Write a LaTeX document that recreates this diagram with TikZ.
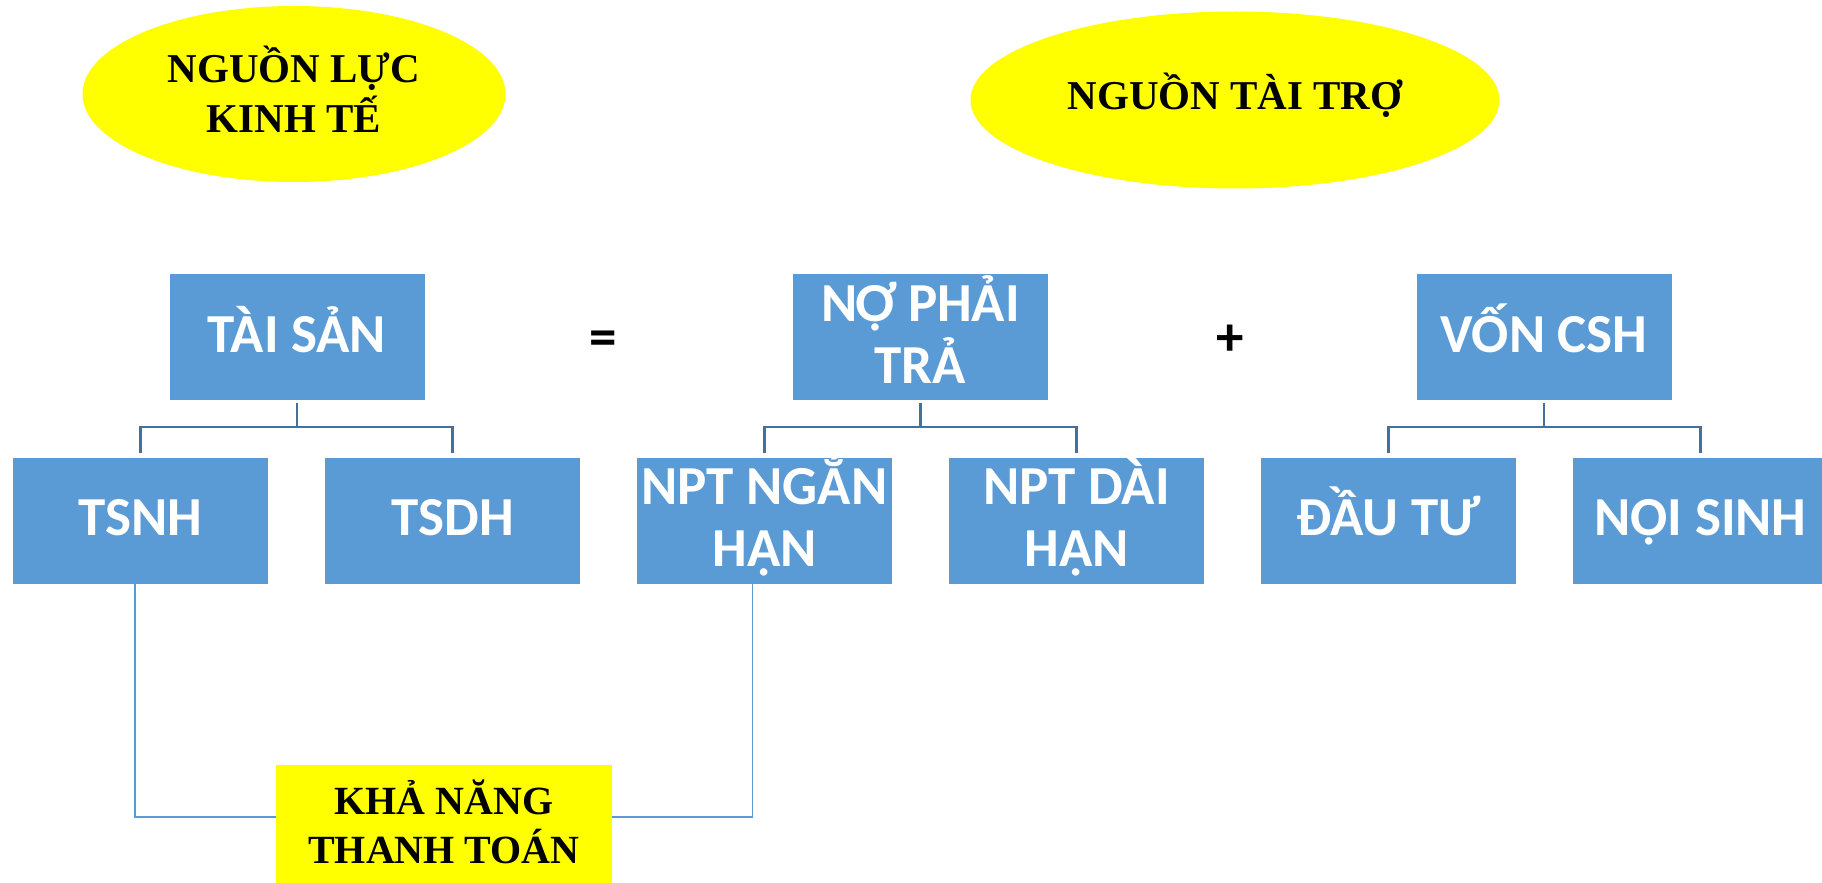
\documentclass[tikz,border=0pt]{standalone}
\usepackage{fontspec}
\setmainfont{Liberation Serif}
\newfontfamily\boxfont{Carlito}
\usetikzlibrary{shapes.geometric}
\definecolor{boxblue}{HTML}{5B9BD5}
\definecolor{treeblue}{HTML}{41719C}
\definecolor{hiyellow}{HTML}{FFFF00}

\begin{document}
\begin{tikzpicture}[x=0.5pt,y=-0.5pt,
  % fixed text box dimensions keep the capitals centred whatever the accents
  textbox/.style 2 args={text height=#1, text depth=#2},
  title/.style={ellipse, fill=hiyellow, inner sep=0, align=center,
    font=\fontsize{20.5}{25}\selectfont\bfseries},
  acct/.style={rectangle, fill=boxblue, inner sep=0, minimum width=127.5pt,
    minimum height=63pt, align=center, text=white,
    font=\boxfont\bfseries\fontsize{27.5}{31}\selectfont,
    textbox={20pt}{4.8pt}},
  acct2/.style={acct, textbox={50pt}{3.8pt}},
  op/.style={inner sep=0, anchor=base,
    font=\boxfont\bfseries\fontsize{27.5}{31}\selectfont},
  result/.style={rectangle, fill=hiyellow, inner sep=0, minimum width=168pt,
    minimum height=59pt, align=center, font=\fontsize{20}{24.5}\selectfont\bfseries,
    textbox={42pt}{2.76pt}},
  tree/.style={draw=treeblue, line width=1.25pt},
  link/.style={draw=boxblue, line width=0.6pt}]

\useasboundingbox (0,0) rectangle (1822,883);
\clip (0,0) rectangle (1822,883);

% headings
\node[title, textbox={42pt}{3.4pt}, minimum width=211.5pt, minimum height=88pt]
  (resource) at (294,94) {NGUỒN LỰC\\KINH TẾ};
\node[title, textbox={14pt}{4.4pt}, minimum width=264.5pt, minimum height=88.5pt]
  (funding) at (1235,100) {NGUỒN TÀI TRỢ};

% accounting equation
\node[acct] (taisan) at (297,337) {TÀI SẢN};
\node[op] (eq) at (603,355) {=};
\node[acct2] (nophaitra) at (920.5,337) {NỢ PHẢI\\TRẢ};
\node[op] (plus) at (1230,355) {+};
\node[acct] (von) at (1544,337) {VỐN CSH};

% components
\node[acct] (tsnh) at (140.5,520.5) {TSNH};
\node[acct] (tsdh) at (452.5,520.5) {TSDH};
\node[acct2] (nptngan) at (764.5,520.5) {NPT NGẮN\\HẠN};
\node[acct2] (nptdai) at (1076.5,520.5) {NPT DÀI\\HẠN};
\node[acct] (dautu) at (1388.5,520.5) {ĐẦU TƯ};
\node[acct] (noisinh) at (1700.5,520.5) {NỘI SINH};

% liquidity
\node[result] (khanang) at (444,824) {KHẢ NĂNG\\THANH TOÁN};

% tree connectors
\draw[tree] ([yshift=-1.5pt]taisan.south) -- ++(0,-12.5pt);
\draw[tree] ([yshift=2pt]tsnh.north) -- ++(0,13pt) -| ([yshift=2pt]tsdh.north);
\draw[tree] ([yshift=-1.5pt]nophaitra.south) -- ++(0,-12.5pt);
\draw[tree] ([yshift=2pt]nptngan.north) -- ++(0,13pt) -| ([yshift=2pt]nptdai.north);
\draw[tree] ([yshift=-1.5pt]von.south) -- ++(0,-12.5pt);
\draw[tree] ([yshift=2pt]dautu.north) -- ++(0,13pt) -| ([yshift=2pt]noisinh.north);

% liquidity links
\draw[link] ([xshift=-2.75pt]tsnh.south) |- ([yshift=3.5pt]khanang.west);
\draw[link] ([xshift=-6pt]nptngan.south) |- ([yshift=3.5pt]khanang.east);
\end{tikzpicture}
\end{document}
